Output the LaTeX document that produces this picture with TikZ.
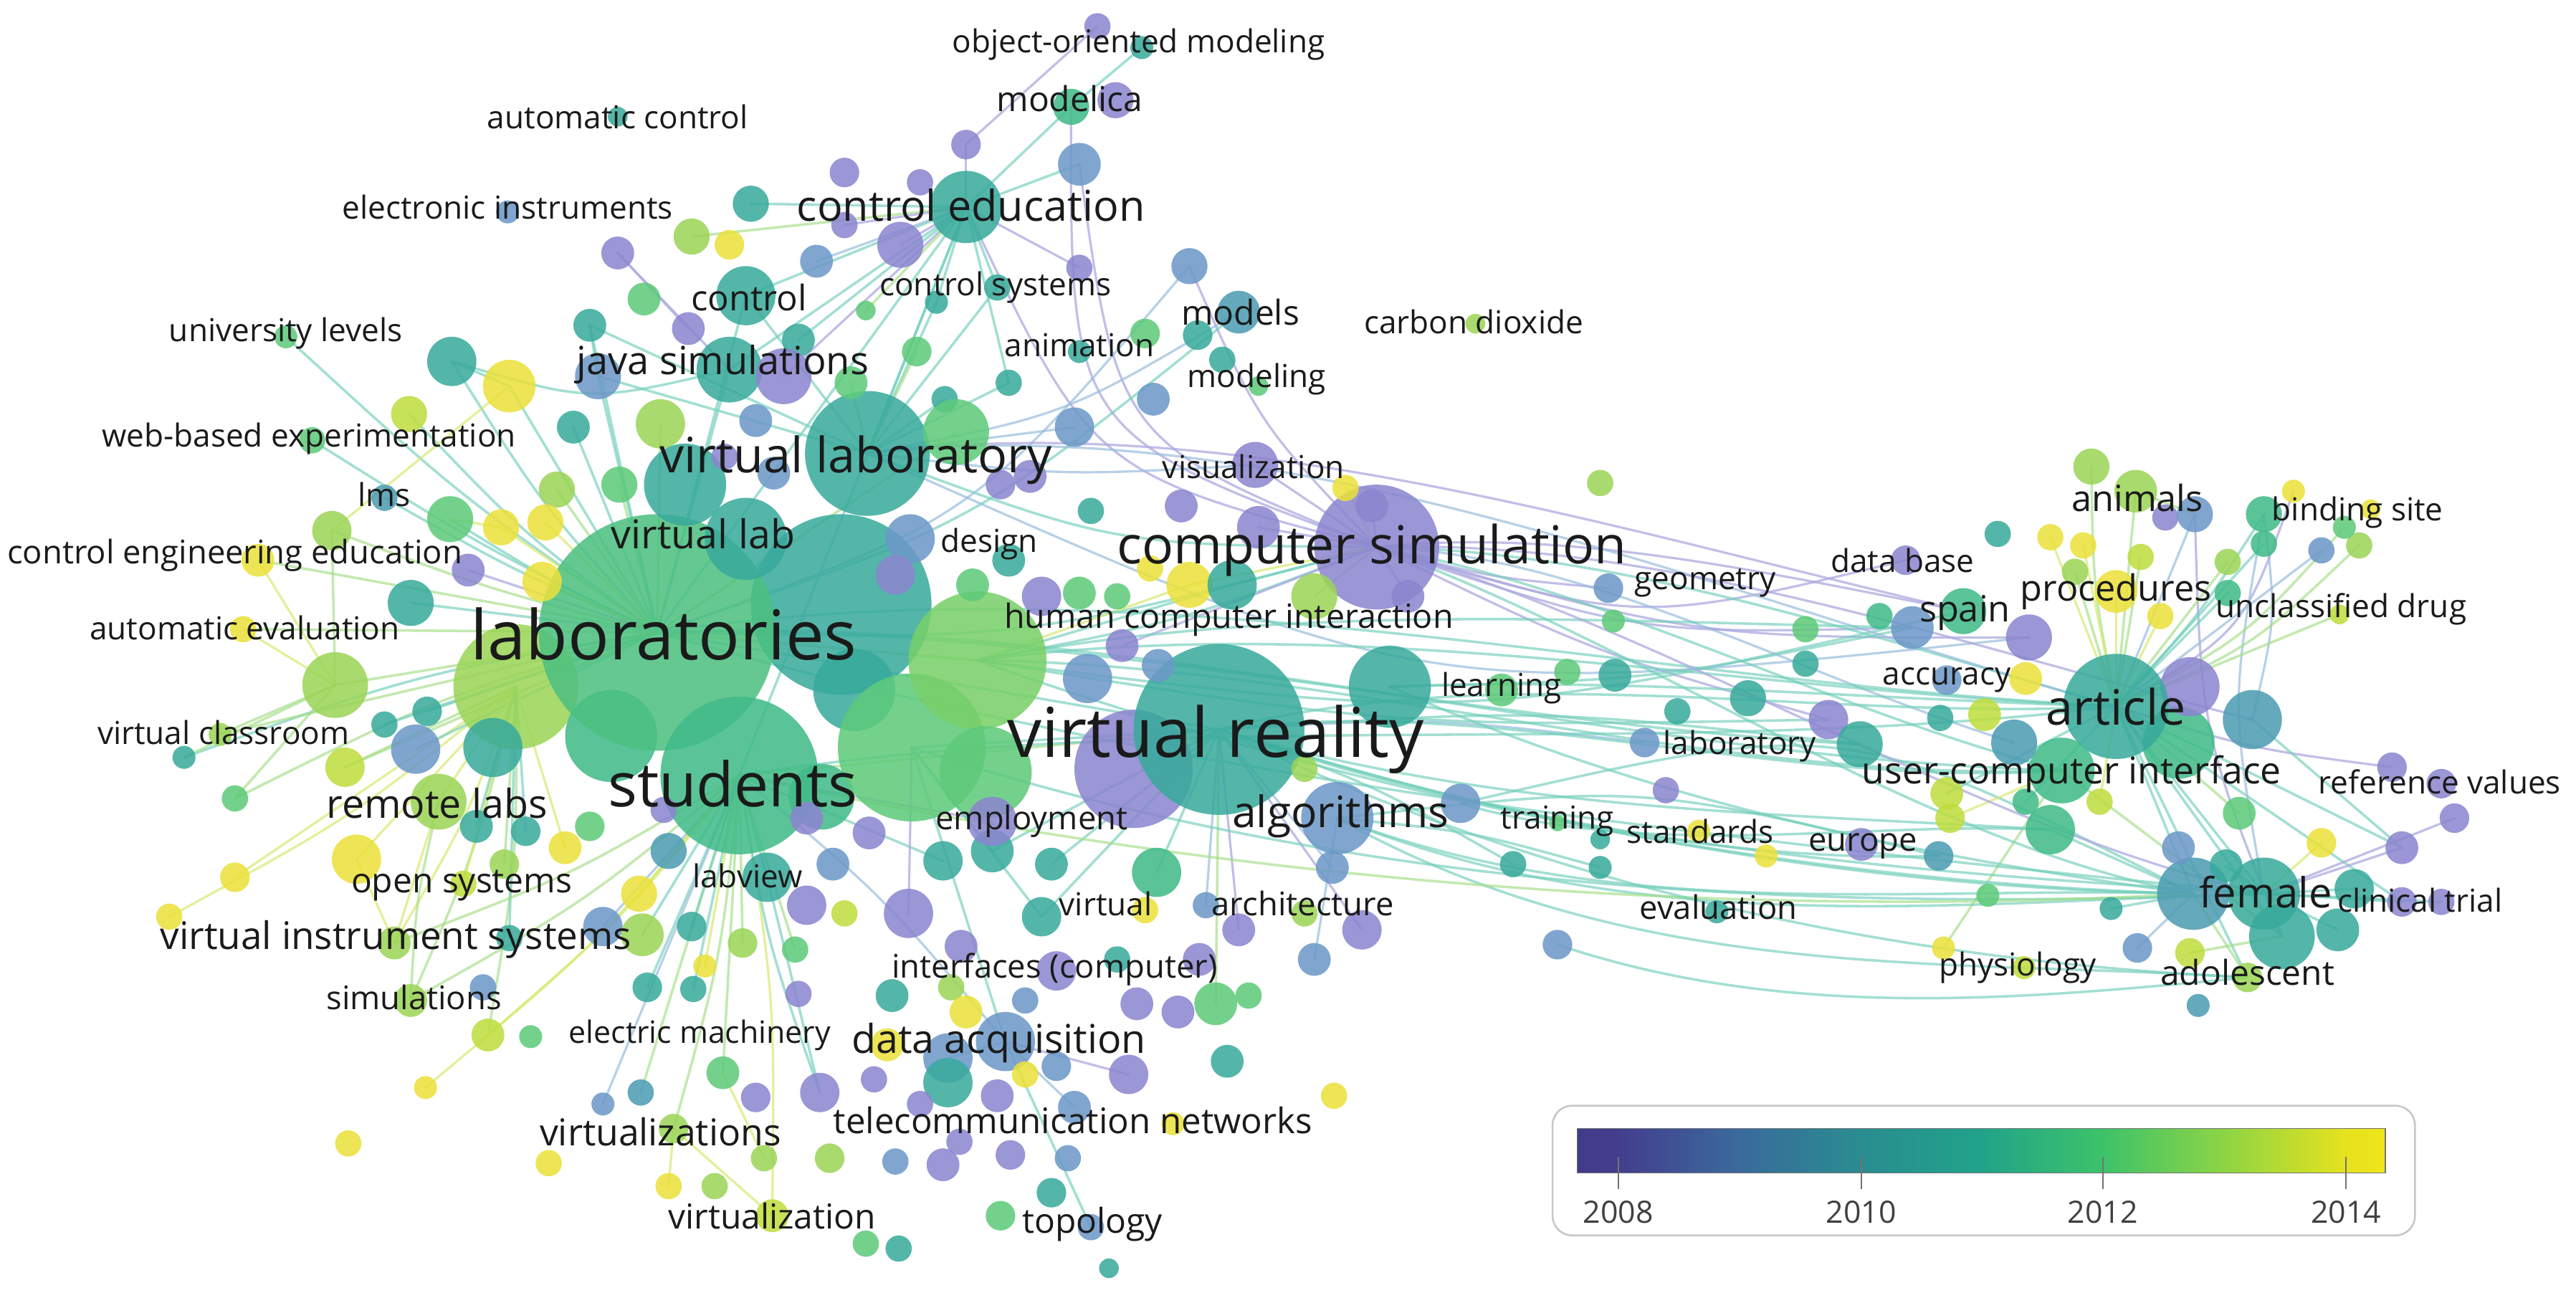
\documentclass[tikz,border=0pt]{standalone}
\usepackage{fontspec}
\setmainfont{Open Sans}
\usetikzlibrary{calc}
\pgfdeclarelayer{bgzero}
\pgfdeclarelayer{edges}
\pgfsetlayers{bgzero,edges,main}
\definecolor{cP}{HTML}{8B85CF}
\definecolor{cB}{HTML}{6C98C8}
\definecolor{cBT}{HTML}{4C9CB2}
\definecolor{cT}{HTML}{38AA9C}
\definecolor{cTG}{HTML}{40BB88}
\definecolor{cLab}{HTML}{4CC080}
\definecolor{cG}{HTML}{5ECA7A}
\definecolor{cG2}{HTML}{78D068}
\definecolor{cLG}{HTML}{9BD557}
\definecolor{cL}{HTML}{BEDD3E}
\definecolor{cY}{HTML}{EBE13A}
\definecolor{eTc}{HTML}{72CFBB}
\definecolor{eGc}{HTML}{A3DE86}
\definecolor{ePc}{HTML}{ADAAE0}
\definecolor{eYc}{HTML}{D8E96E}
\definecolor{eBc}{HTML}{98BEDD}
\definecolor{labc}{HTML}{1A1A1A}
\definecolor{v0}{HTML}{433A8B}
\definecolor{v1}{HTML}{443D8D}
\definecolor{v2}{HTML}{3A6A9C}
\definecolor{v3}{HTML}{2A8C90}
\definecolor{v4}{HTML}{21A38A}
\definecolor{v5}{HTML}{3DC26A}
\definecolor{v6}{HTML}{8DD445}
\definecolor{v7}{HTML}{E5E21E}
\definecolor{v8}{HTML}{F0E51A}
\pgfdeclarehorizontalshading{viridis}{100bp}{color(0bp)=(v0); color(25bp)=(v0); color(27.5bp)=(v1); color(35bp)=(v2); color(42.5bp)=(v3); color(50bp)=(v4); color(57.5bp)=(v5); color(65bp)=(v6); color(72.5bp)=(v7); color(75bp)=(v8); color(100bp)=(v8)}
\newcommand\fz[1]{\fontsize{\fpeval{#1*1.565}pt}{\fpeval{#1*1.9}pt}\selectfont}
\newcommand\lbl[5]{\node[lab,font=\fz{#4}] (#1) at (#2,#3) {#5};}
\tikzset{
  bub/.style={circle, inner sep=0pt, outer sep=0pt, draw=none, fill=#1, fill opacity=0.86},
  lab/.style={inner sep=0pt, text=labc},
  eT/.style={draw=eTc, line width=2.2pt, opacity=0.65, line cap=round},
  eG/.style={draw=eGc, line width=2.2pt, opacity=0.65, line cap=round},
  eP/.style={draw=ePc, line width=2.0pt, opacity=0.75, line cap=round},
  eY/.style={draw=eYc, line width=2.0pt, opacity=0.7, line cap=round},
  eB/.style={draw=eBc, line width=2.0pt, opacity=0.7, line cap=round},
}
\begin{document}
\begin{tikzpicture}[x=0.05cm, y=-0.05cm]
\begin{pgfonlayer}{bgzero}
\fill[white] (0,0) rectangle (1568,787);
\end{pgfonlayer}
\useasboundingbox (0,0) rectangle (1568,787);
% big bubbles
\foreach \n/\x/\y/\r/\c in {
lm/314/418/38/cLG, lm2/204/417/20/cLG, tb1/512/368/55/cT, l1/372/448/28/cTG, l2/300/455/18/cT,
lab/400/385/72/cLab, vlab/528/276/38/cT, l6/520/420/25/cT, stud/450/472/48/cTG, l7/500/485/20/cTG,
gS/555/455/45/cG, gL/595/402/42/cG2, l8/600/470/28/cG, vrp/690/468/36/cP, vr/742/444/52/cT,
lrn/846/418/25/cT, cs/838/333/38/cP, art2/1326/452/22/cTG, artp/1333/418/18/cP, art/1288/430/32/cT,
art3/1371/438/18/cBT, uci/1255/469/20/cTG, fem1/1335/544/22/cBT, fem2/1378/544/22/cT, fem3/1389/570/20/cT}
  \node[bub=\c, minimum size=\r*0.1cm] (\n) at (\x,\y) {};
% top
\foreach \n/\x/\y/\r/\c in {
t1/668/16/8/cP, t2/695/29/7/cT, mod/652/65/11/cTG, t3/679/61/11/cP, t4/588/88/9/cP, t5/657/100/13/cB,
ce/588/126/22/cT, t6/548/149/14/cP, t7/560/111/8/cP, t8/514/105/9/cP, t9/514/137/8/cP, t11/657/163/8/cP,
t12/724/162/11/cB, t13/607/175/8/cT, t14/570/184/7/cT, t15/527/189/6/cG, t16/558/214/9/cG, t17/657/214/7/cT,
t18/697/203/9/cG, mods/754/190/13/cBT, t19/729/204/9/cT, t20/744/219/8/cT, t21/766/235/6/cG, t22/614/233/8/cT,
t23/575/243/8/cT, t24/702/243/10/cB, t25/654/260/12/cB, t26/582/263/20/cG, vis/764/283/14/cP, t27/819/297/8/cY,
t28/719/308/10/cP, t29/664/311/8/cT, t30/627/290/10/cP, t31/609/295/9/cP, t32/766/321/13/cP, t33/835/308/10/cP,
t34/974/294/8/cLG, geo/979/358/9/cB, t35/982/378/7/cG, hy/724/356/14/cY, t36/750/356/15/cT, t37/800/363/14/cLG,
t38/700/346/8/cY, t39/680/363/8/cG, t40/657/361/10/cG, t41/634/363/12/cP, t42/614/341/10/cT, t43/592/356/10/cG,
t44/554/328/15/cB, t45/857/363/10/cP, t46/545/350/12/cP, co2/898/197/6/cLG}
  \node[bub=\c, minimum size=\r*0.1cm] (\n) at (\x,\y) {};
% upper left
\foreach \n/\x/\y/\r/\c in {
ac/376/71/6/cT, ei/309/129/7/cB, u1/457/124/11/cT, u2/421/144/11/cLG, u3/444/149/9/cY, u4/376/154/10/cP,
u5/497/159/10/cB, ctl/454/180/18/cT, u6/392/182/10/cG, u7/359/198/10/cT, u8/419/200/10/cP, u9/486/207/10/cT,
ul/174/205/7/cG, u10/275/220/15/cT, u11/310/235/16/cY, u12/364/229/14/cB, java/444/225/20/cT, u13/477/229/17/cP,
u14/249/252/11/cL, u15/349/260/10/cT, u16/402/258/15/cLG, u17/460/256/10/cB, web/190/268/8/cG, lms/234/303/8/cBT,
u18/339/298/11/cLG, u19/377/295/11/cG, u20/274/316/14/cG, u21/202/323/12/cLG, u22/305/321/11/cY, u23/332/318/11/cY,
u24/157/341/10/cY, u25/285/347/10/cP, u26/330/354/12/cY, u27/250/367/14/cT, aev/148/383/8/cY, u28/417/295/25/cT,
vl/454/328/25/cT, u29/471/288/10/cB, u30/441/278/8/cP, u31/518/233/10/cG}
  \node[bub=\c, minimum size=\r*0.1cm] (\n) at (\x,\y) {};
% middle
\foreach \n/\x/\y/\r/\c in {
m1/914/420/10/cG, m2/954/409/8/cG, m3/983/411/10/cT, m4/1021/433/8/cT, m5/1001/452/9/cB, m6/1014/481/8/cP,
m7/889/489/12/cB, alg/814/498/22/cB, m8/811/528/10/cB, m9/704/531/15/cTG, m10/697/554/8/cY, m11/640/526/10/cT,
m12/604/518/13/cT, m13/574/524/12/cT, emp/604/500/15/cP, m14/529/507/10/cP, m15/662/413/15/cB, m16/683/393/10/cP,
m17/705/405/10/cB, m18/794/468/8/cLG, m19/553/556/15/cP, m20/634/558/12/cT, m21/680/584/8/cT, m22/585/576/10/cP,
m23/754/566/10/cP, m24/794/556/8/cLG, m25/829/566/12/cP, m26/800/584/10/cB, m27/734/551/8/cB, m28/730/584/10/cP,
m29/643/591/12/cP, m30/543/606/10/cT, m31/579/601/8/cLG, m32/588/616/10/cY, m33/624/609/8/cB, m34/692/611/10/cP,
m35/717/616/10/cP, m36/740/611/13/cG, m37/760/606/8/cG, da/612/634/18/cB, m38/577/644/15/cB, m39/577/659/15/cT,
m40/540/636/10/cY, m41/624/654/8/cY, m42/643/649/9/cB, m43/687/654/12/cP, m44/747/646/10/cT, m45/812/667/8/cY,
m46/532/657/8/cP, m47/607/667/10/cP, m48/560/672/8/cP, m49/654/674/10/cB, m50/714/684/7/cY, m51/584/695/8/cP,
m52/545/707/8/cB, m53/574/709/10/cP, m54/615/703/9/cP, m55/650/705/8/cB, m56/640/726/9/cT, m57/609/740/9/cG,
tpl/664/747/8/cB, m58/547/760/8/cT, m59/527/757/8/cG, m60/675/772/6/cT, tr1/921/526/8/cT, tr2/974/528/7/cT,
tr3/974/511/6/cT, tr4/948/575/9/cB, tr5/948/501/5/cG, std/1034/506/7/cY, std2/1075/521/7/cY, ev/1045/555/7/cT}
  \node[bub=\c, minimum size=\r*0.1cm] (\n) at (\x,\y) {};
% right
\foreach \n/\x/\y/\r/\c in {
r1/1064/425/11/cT, r2/1113/438/12/cP, r3/1132/453/14/cT, r4/1099/404/8/cT, r5/1099/383/8/cG, r6/1144/375/8/cTG,
r7/1164/382/13/cB, spn/1195/372/14/cTG, r8/1235/388/14/cP, r9/1216/325/8/cT, db/1160/341/9/cP, r10/1273/284/11/cLG,
ani/1300/299/13/cLG, r11/1318/315/8/cP, r12/1336/313/11/cB, r13/1248/327/8/cY, r14/1268/332/8/cY, r15/1263/348/8/cLG,
proc/1288/360/13/cY, r16/1303/339/8/cL, r17/1315/375/8/cY, r18/1356/342/8/cLG, r19/1356/361/8/cTG, r20/1378/313/11/cTG,
r21/1378/331/8/cTG, r22/1396/299/7/cY, r23/1413/335/8/cB, r24/1436/332/8/cLG, r25/1427/321/7/cG, r26/1443/310/6/cY,
r27/1424/374/6/cL, acc/1185/414/9/cB, r28/1233/413/10/cY, r29/1181/437/8/cT, r30/1208/435/10/cL, r31/1226/452/14/cBT,
r32/1248/505/15/cTG, r33/1185/483/10/cL, r34/1187/498/9/cL, r35/1233/488/8/cTG, r36/1278/488/8/cL, r37/1363/495/10/cG,
r38/1180/521/9/cBT, eur/1133/514/10/cP, r40/1210/545/7/cG, r41/1183/577/7/cY, phy/1232/589/7/cL, r42/1301/577/9/cB,
r43/1285/553/7/cT, r45/1338/612/7/cBT, ado/1368/595/9/cLG, r46/1333/580/9/cL, r48/1423/566/13/cT, r49/1433/541/12/cT,
r50/1355/527/10/cT, r51/1326/516/10/cB, r52/1413/513/9/cY, r53/1462/516/10/cP, r54/1462/549/9/cP, r55/1486/549/8/cP,
r56/1456/467/9/cP, r57/1486/477/9/cP, r58/1494/498/9/cP}
  \node[bub=\c, minimum size=\r*0.1cm] (\n) at (\x,\y) {};
% lower left
\foreach \n/\x/\y/\r/\c in {
b2/253/456/15/cB, b3/210/467/12/cL, b4/143/486/8/cG, b5/112/461/7/cT, rl/267/488/17/cLG, b6/217/523/15/cY,
b7/143/534/9/cY, b8/307/526/9/cLG, b9/344/516/10/cY, b10/103/558/8/cY, b11/240/574/10/cLG, b12/310/571/8/cT,
b13/367/564/12/cB, b14/389/544/11/cY, b15/391/569/13/cLG, b16/421/564/9/cT, b17/452/574/9/cLG, b18/294/601/8/cB,
sim/250/609/10/cLG, b19/297/630/10/cL, b20/323/631/7/cG, b21/259/662/7/cY, b22/212/696/8/cY, b23/334/708/8/cY,
b24/407/722/8/cY, b25/435/722/8/cLG, b26/367/672/7/cB, b27/390/665/8/cBT, b28/440/653/10/cG, vz/410/687/9/cLG,
b29/460/668/9/cP, b30/465/705/8/cLG, vzn/470/740/10/cL, b31/499/665/12/cP, b32/505/705/9/cLG, b33/486/605/8/cP,
b34/422/602/8/cT, b35/394/601/9/cT, b36/429/588/7/cY, b37/484/578/8/cG, b38/514/556/8/cL, b39/491/551/12/cP,
b40/407/518/11/cBT, lbv/467/534/15/cT, b42/359/503/9/cG, b43/320/506/9/cT, b44/290/503/10/cT, b45/260/433/9/cT,
b46/234/441/8/cT, b47/404/493/8/cP, b48/491/498/10/cP, b49/507/526/10/cB, b50/134/447/7/cLG, b51/282/538/8/cL}
  \node[bub=\c, minimum size=\r*0.1cm] (\n) at (\x,\y) {};
% edges
\begin{pgfonlayer}{edges}
\foreach \a/\b/\bd/\s in {
lab/u10/5/eT, lab/u14/5/eT, lab/web/3/eT, lab/u21/3/eG, lab/aev/0/eG, lab/u27/0/eT, lab/u24/0/eG, lab/u20/3/eT,
lab/b5/-5/eT, lab/lms/3/eT, lab/lm2/0/eG, lab/b4/-5/eG, lab/ul/4/eT, u10/java/-15/eT, u10/u11/0/eT, u11/u21/0/eY,
u20/u22/0/eY, lm/b3/0/eG, lm/rl/0/eY, lm/b6/0/eY, lm/b10/5/eY, lm/b11/5/eY, lm/sim/5/eG, lm/b7/0/eY, lm2/b4/0/eG,
lm2/b5/0/eG, rl/b11/0/eY, rl/sim/-5/eG, b6/b11/0/eY, lm/b19/5/eG, lm/b51/0/eY, stud/vz/5/eG, stud/vzn/5/eY, stud/b28/0/eG,
stud/b15/0/eT, stud/b19/5/eY, stud/b13/0/eB, stud/b31/-5/eT, stud/b21/5/eY, vz/b24/0/eY, vz/vzn/0/eY, b28/b30/0/eY,
ce/ctl/0/eT, ce/java/0/eT, ce/vlab/0/eT, ce/lab/0/eT, ce/u5/0/eB, ce/t5/0/eT, ce/mod/0/eT, ce/t4/0/eP,
ce/t6/0/eP, ce/u13/0/eP, ce/stud/0/eT, ce/t22/0/eT, ce/cs/-25/eP, t5/cs/-30/eP, mod/cs/-35/eP, t12/cs/-10/eP,
t1/t4/0/eP, t2/mod/0/eT, u4/java/0/eP, u4/u8/0/eP, vlab/u12/0/eT, vlab/u7/0/eT, vlab/ctl/0/eT, vlab/cs/-10/eT,
vlab/vis/-5/eB, vlab/mods/-10/eB, u12/u7/0/eT, mods/lab/10/eT, t12/lab/15/eB,
cs/r8/-8/eP, cs/r7/-10/eP, cs/r2/-5/eP, cs/geo/-5/eP, cs/db/-15/eP,
gL/spn/-10/eT, lab/cs/-8/eT, vr/r3/5/eT, lrn/r7/-5/eT, alg/r38/10/eT, m7/fem1/20/eT, vr/m5/5/eB,
gL/r2/-5/eT, lab/vr/0/eT, stud/vr/0/eG, gS/vr/0/eT, gL/cs/-5/eT, vlab/r8/-15/eB,
art/ani/0/eG, art/proc/0/eY, art/r10/5/eG, art/r20/-5/eT, art/fem2/0/eT, art/fem1/0/eT, art/fem3/0/eT,
art/r56/-5/eP, art/r54/0/eT, art/r53/0/eT, art/r33/0/eT, art/ado/0/eT, fem1/ado/0/eG, fem2/r54/0/eT,
art3/r20/-10/eB, art3/r53/0/eT, art/r22/-20/eP, uci/r34/0/eY, uci/r41/0/eG, fem2/r58/0/eP, fem2/r55/0/eT,
art/r12/0/eB, art/r16/0/eG, ani/r12/0/eG, r12/fem3/-10/eP, r20/fem2/-10/eB, uci/fem3/0/eG, r32/fem1/0/eT,
stud/lbv/0/eT, lbv/b31/0/eT, gS/da/0/eT, stud/da/5/eB, da/tpl/0/eT, stud/b27/0/eG,
lab/u11/0/eT, lab/u22/0/eY, lab/u23/0/eY, lab/u26/0/eY, lab/u25/0/eP, lab/b2/0/eT, lab/b3/0/eG, lab/b46/0/eT,
lab/b45/0/eT, lab/u18/0/eG, lab/u19/0/eG, lab/u15/0/eT, lab/u16/0/eG, lab/ctl/0/eT, lab/java/0/eT, lab/u12/0/eT,
lab/u7/0/eT, lab/t26/0/eG, lab/b50/0/eG, lm/b44/0/eT, lm/b43/0/eT, lm/b8/0/eG, lm/b9/0/eY, lm/b12/0/eT,
stud/b14/0/eY, stud/b16/0/eT, stud/b17/0/eG, stud/b34/0/eT, stud/b35/0/eT, stud/b36/0/eY, stud/b37/0/eG,
stud/sim/5/eG, stud/b11/5/eG, stud/b26/0/eB, lm2/u24/0/eY, lm2/aev/0/eY, lm2/b50/0/eG, lm2/u21/0/eG,
vlab/t13/0/eT, vlab/t14/0/eT, vlab/t16/0/eG, vlab/t22/0/eT, vlab/t23/0/eT, vlab/u31/0/eG, vlab/t25/0/eB,
ce/t13/0/eT, ce/t14/0/eT, ce/t15/0/eG, ce/u9/0/eT, ce/u1/0/eT, ce/u2/0/eG, ce/t11/0/eP, ce/t9/0/eP,
art/r13/0/eY, art/r14/0/eY, art/r15/0/eG, art/r17/0/eY, art/r18/0/eG, art/r19/0/eT, art/r21/0/eT, art/r23/0/eB,
art/r24/-10/eG, art/r25/-10/eG, art/r27/0/eG, fem1/r42/0/eB, fem1/r43/0/eT, fem2/r48/0/eT, fem2/r49/0/eT,
fem2/r50/0/eT, fem2/r52/0/eY, fem2/r53/0/eP, fem3/r46/0/eG, art/r35/0/eT, art/r36/0/eY, art/r37/0/eG,
vr/m8/0/eB, vr/m9/0/eT, vr/m11/0/eT, vr/m12/0/eT, vr/m20/0/eT, vr/m23/0/eP, vr/m27/0/eB, vr/tr1/5/eT,
vr/m36/0/eG, vr/m25/0/eP, alg/tr2/5/eT, alg/m26/0/eB, cs/vis/0/eP, cs/t27/0/eY, cs/t32/0/eP, cs/t33/0/eP,
cs/t36/0/eT, cs/t37/0/eG, cs/hy/0/eY, cs/m16/0/eP, cs/t45/0/eP, gL/hy/0/eY, gL/t36/0/eT, lab/gL/0/eG,
stud/emp/0/eP, stud/m13/0/eT, gS/m12/0/eT, gS/m20/0/eT, gS/m19/0/eP, da/m38/0/eB, da/m43/0/eP, da/m49/0/eB}
{
  \pgfmathsetmacro\kk{tan(\bd)}
  \draw[\s] (\a.center) .. controls ($(\a.center)!0.5!(\b.center)!\kk!90:(\b.center)$) .. (\b.center);
}
% S-shaped long links
\foreach \a/\b/\p/\q/\s in {
cs/art/-30/-10/eT, cs/uci/-20/10/eT, cs/fem1/-10/40/eT, cs/r31/-35/0/eB, cs/spn/-25/-10/eP,
vr/art/-40/5/eT, vr/uci/-30/20/eT, vr/fem1/30/30/eT, vr/fem2/40/20/eT, vr/r32/30/10/eT, vr/r38/20/30/eT,
lab/art/-60/0/eT, lab/uci/-40/20/eT, gL/art/-40/0/eT, gL/fem1/40/40/eT, gS/fem2/60/40/eT,
alg/fem1/50/10/eT, alg/fem2/60/20/eT, alg/ado/70/20/eT, tr4/ado/40/20/eT, lrn/fem1/30/20/eT,
lrn/art/-10/0/eT, m7/r32/30/0/eT, vlab/art/-80/-20/eB, vlab/spn/-60/-20/eP, lab/r3/-30/10/eT,
stud/art/-30/20/eT, stud/fem1/40/40/eG, gL/r7/-30/-10/eT, cs/fem2/-20/30/eP, vr/ado/50/40/eT,
gL/uci/-20/30/eT, lab/fem2/40/20/eT, cs/art3/-40/-10/eP}
{
  \draw[\s] (\a.center) .. controls ($(\a.center)!0.33!(\b.center)+(0,\p)$) and ($(\a.center)!0.67!(\b.center)+(0,\q)$) .. (\b.center);
}
\end{pgfonlayer}
% labels
\lbl{Lobj}{693}{27}{17.5}{object-oriented modeling}
\lbl{Lac}{376}{71}{17.5}{automatic control}
\lbl{Lmod}{651}{60}{19}{modelica}
\lbl{Lei}{309}{126}{17.5}{electronic instruments}
\lbl{Lce}{591}{125}{23.5}{control education}
\lbl{Lcsy}{606}{175}{17.5}{control systems}
\lbl{Lmds}{755}{190}{19}{models}
\lbl{Lco}{897}{196}{17.5}{carbon dioxide}
\lbl{Lani}{657}{210}{17.5}{animation}
\lbl{Lmdg}{765}{231}{17.5}{modeling}
\lbl{Lctl}{456}{181}{19.5}{control}
\lbl{Lul}{174}{203}{17.5}{university levels}
\lbl{Ljs}{440}{222}{21.5}{java simulations}
\lbl{Lvlab}{521}{280}{27}{virtual laboratory}
\lbl{Lvis}{763}{284}{17.5}{visualization}
\lbl{Lweb}{188}{267}{17.5}{web-based experimentation}
\lbl{Llms}{234}{301}{17.5}{lms}
\lbl{Lvl}{428}{325}{22}{virtual lab}
\lbl{Ldes}{602}{331}{17.5}{design}
\lbl{Lcee}{143}{338}{18}{control engineering education}
\lbl{Lcs}{835}{335}{29}{computer simulation}
\lbl{Lgeo}{1038}{355}{17.5}{geometry}
\lbl{Ldb}{1158}{341}{17.5}{data base}
\lbl{Lanm}{1301}{303}{20}{animals}
\lbl{Lbs}{1435}{312}{17.5}{binding site}
\lbl{Lae}{149}{382}{17.5}{automatic evaluation}
\lbl{Llab}{404}{386}{38}{laboratories}
\lbl{Lhci}{748}{377}{18.5}{human computer interaction}
\lbl{Lspn}{1196}{373}{20}{spain}
\lbl{Lproc}{1288}{360}{20}{procedures}
\lbl{Lud}{1425}{371}{17.5}{unclassified drug}
\lbl{Llrn}{914}{419}{17.5}{learning}
\lbl{Lacc}{1185}{414}{17.5}{accuracy}
\lbl{Lvc}{136}{446}{17.5}{virtual classroom}
\lbl{Lvr}{740}{450}{38}{virtual reality}
\lbl{Lart}{1288}{430}{27}{article}
\lbl{Lstud}{446}{477}{34}{students}
\lbl{Llaby}{1059}{454}{17.5}{laboratory}
\lbl{Luci}{1261}{471}{20.5}{user-computer interface}
\lbl{Lrv}{1485}{476}{17.5}{reference values}
\lbl{Lrl}{266}{489}{22}{remote labs}
\lbl{Lemp}{628}{500}{18}{employment}
\lbl{Lalg}{816}{497}{24}{algorithms}
\lbl{Ltr}{948}{500}{17.5}{training}
\lbl{Lstd}{1035}{506}{17.5}{standards}
\lbl{Leur}{1134}{515}{18}{europe}
\lbl{Llbv}{455}{533}{17.5}{labview}
\lbl{Los}{281}{539}{19}{open systems}
\lbl{Lvir}{673}{550}{17.5}{virtual}
\lbl{Larch}{793}{550}{18}{architecture}
\lbl{Lev}{1046}{552}{18}{evaluation}
\lbl{Lfem}{1379}{543}{23}{female}
\lbl{Lct}{1473}{548}{17.5}{clinical trial}
\lbl{Lvis2}{241}{572}{21}{virtual instrument systems}
\lbl{Lsim}{252}{607}{18}{simulations}
\lbl{Lic}{642}{590}{18}{interfaces (computer)}
\lbl{Lphy}{1228}{589}{17.5}{physiology}
\lbl{Lado}{1368}{592}{19}{adolescent}
\lbl{Lem}{426}{630}{17}{electric machinery}
\lbl{Lda}{608}{635}{22}{data acquisition}
\lbl{Lvzs}{402}{689}{20.5}{virtualizations}
\lbl{Ltn}{653}{682}{19.5}{telecommunication networks}
\lbl{Lvzn}{470}{740}{19}{virtualization}
\lbl{Ltop}{665}{745}{19}{topology}
% legend
\draw[draw=black!22, line width=1.6pt, rounded corners=0.6cm, fill=white] (945,673) rectangle (1470,752);
\shade[shading=viridis] (960,687) rectangle (1452,714);
\draw[draw=black!55, line width=0.9pt] (960,687) rectangle (1452,714);
\foreach \t/\xx in {2008/985, 2010/1133, 2012/1280, 2014/1428}{
  \draw[draw=black!55, line width=1.1pt] (\xx,704) -- (\xx,724);
  \node[lab, text=black!75, font=\fz{17}] (Y\t) at (\xx,738) {\t};
}
\end{tikzpicture}
\end{document}
